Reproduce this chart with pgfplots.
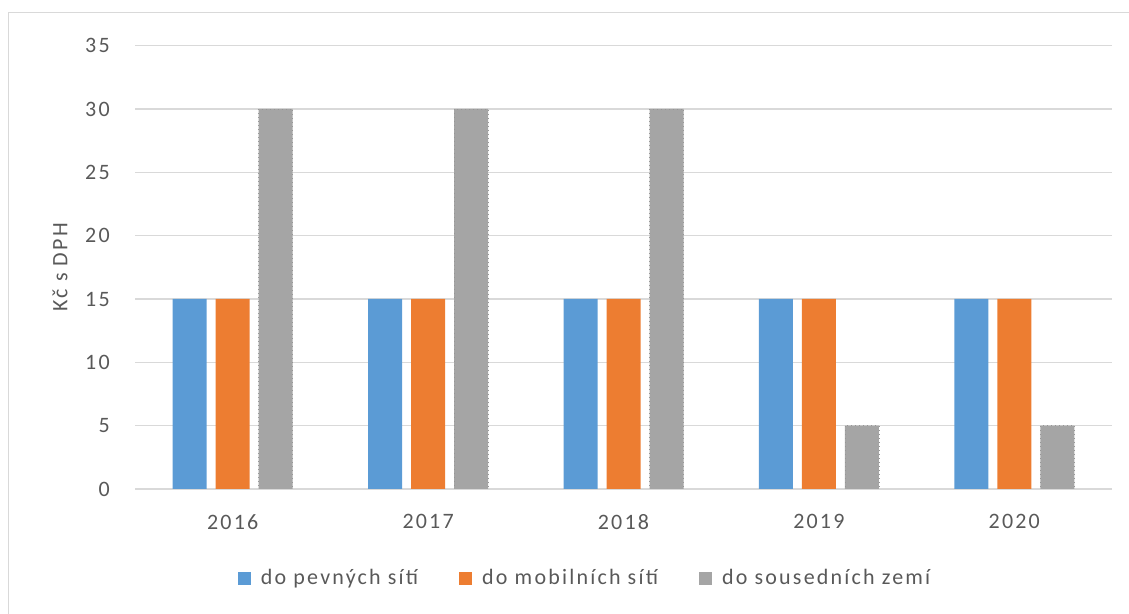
\documentclass[border=0pt]{standalone}
\usepackage{pgfplots}
\pgfplotsset{compat=1.18}
\usepackage{fontspec}
\setmainfont{Carlito}[LetterSpace=10]
\definecolor{cblue}{HTML}{5B9BD5}
\definecolor{corange}{HTML}{ED7D31}
\definecolor{cgray}{HTML}{A5A5A5}
\definecolor{cgrid}{HTML}{D9D9D9}
\definecolor{ctext}{HTML}{595959}
\definecolor{cedge}{HTML}{969696}
\newcommand{\cfont}{\fontsize{16.5pt}{19pt}\selectfont}
\begin{document}
\cfont
\begin{tikzpicture}
\path[use as bounding box] (0,0) rectangle (846.75pt,460.5pt);
\draw[cgrid, line width=1pt] (6.2pt,0) -- (6.2pt,451pt) -- (846.75pt,451pt);
\begin{axis}[
  at={(101.25pt,93.75pt)}, anchor=south west,
  scale only axis,
  width=732.75pt, height=332.5pt,
  xmin=-0.5, xmax=4.5, ymin=0, ymax=35,
  ytick={0,5,...,35},
  xtick={0,1,2,3,4},
  xticklabels={2016,2017,2018,2019,2020},
  axis x line*=bottom,
  axis y line*=left,
  x axis line style={draw=cgrid, line width=1pt, -},
  y axis line style={draw=none},
  ymajorgrids, grid style={cgrid, line width=1pt},
  major tick length=0pt,
  tick style={draw=none},
  /pgf/number format/assume math mode=true,
  ticklabel style={font=\cfont, text=ctext},
  yticklabel style={anchor=east, inner sep=0pt, xshift=-18.75pt},
  xticklabel style={anchor=center, inner sep=0pt, yshift=-24.5pt},
  ylabel={Kč s DPH},
  ylabel style={at={(axis description cs:-0.0768,0.5)}, anchor=center, rotate=0, text=ctext, inner sep=0pt, font=\cfont},
  ybar=0pt,
  bar width=25.5pt,
  legend columns=3,
  legend style={at={(axis description cs:0.1054,-0.2008)}, anchor=west, draw=none, fill=none,
    inner sep=0pt, outer sep=0pt, nodes={inner sep=0pt, text=ctext, font=\cfont},
    /tikz/every odd column/.append style={column sep=7.5pt},
    /tikz/every even column/.append style={column sep=30.75pt}},
  legend image code/.code={\fill[#1, draw=none] (0pt,-4.875pt) rectangle (9.75pt,4.875pt);},
]
\addplot[fill=cblue, draw=none, bar shift=-32.25pt] coordinates {(0,15) (1,15) (2,15) (3,15) (4,15)};
\addplot[fill=corange, draw=none, bar shift=0pt] coordinates {(0,15) (1,15) (2,15) (3,15) (4,15)};
\addplot[fill=cgray, draw=cedge, dash pattern=on 0.6pt off 2.4pt, line width=0.4pt, bar shift=32.25pt] coordinates {(0,30) (1,30) (2,30) (3,5) (4,5)};
\legend{do pevných sítí, do mobilních sítí, do sousedních zemí}
\end{axis}
\end{tikzpicture}
\end{document}
